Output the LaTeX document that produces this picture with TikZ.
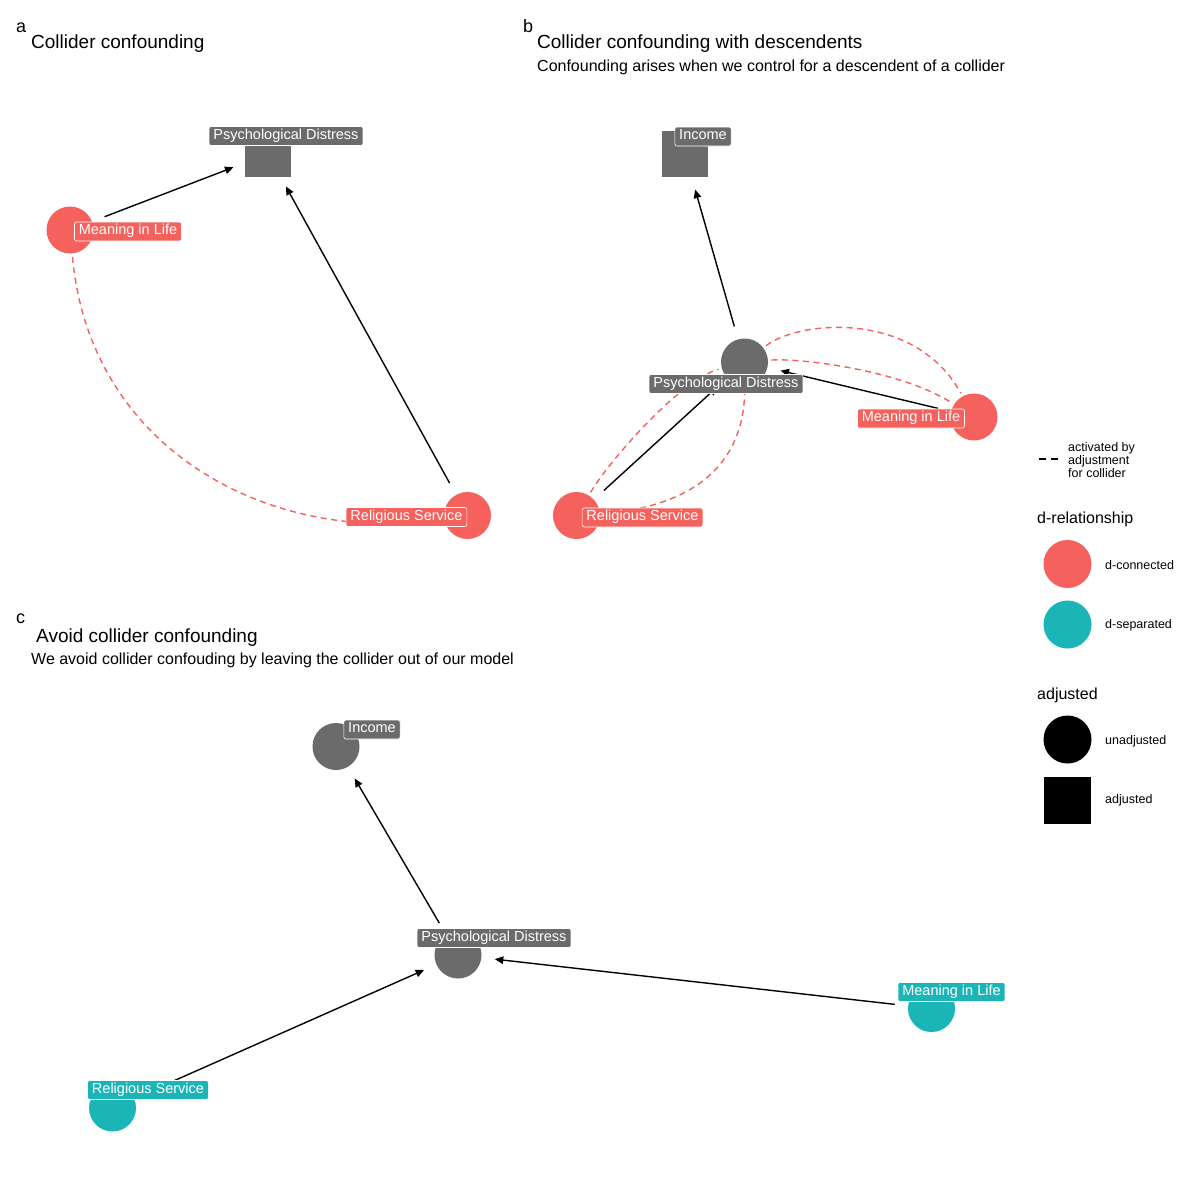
\documentclass[tikz,border=0pt]{standalone}
\usepackage{fontspec}
\setmainfont{Liberation Sans}
\usetikzlibrary{arrows.meta}
\definecolor{dcon}{HTML}{F5615C}
\definecolor{dsep}{HTML}{1BB5B8}
\definecolor{nodegrey}{HTML}{6B6B6B}

\tikzset{
  dagnode/.style={circle, minimum size=47pt, inner sep=0pt, fill=#1},
  adjnode/.style={rectangle, minimum size=46pt, inner sep=0pt, fill=#1},
  daglabel/.style={fill=#1, text=white, draw=white, line width=0.6pt,
    rounded corners=2pt, font=\fontsize{14.5}{16}\selectfont,
    inner xsep=4.3pt, inner ysep=2.8pt, text height=10pt, text depth=3.4pt},
  causal/.style={line width=1.4pt, -{Triangle[length=8.5pt,width=7.5pt]},
    shorten >=37pt, shorten <=37pt},
  collpath/.style={draw=dcon, line width=1.4pt, dash pattern=on 6pt off 4.5pt,
    shorten >=27pt, shorten <=27pt},
  tagtext/.style={anchor=base west, inner sep=0pt, font=\fontsize{18}{20}\selectfont},
  titletext/.style={anchor=base west, inner sep=0pt, font=\fontsize{19}{22}\selectfont},
  subtext/.style={anchor=base west, inner sep=0pt, font=\fontsize{16}{18}\selectfont},
  legtitle/.style={anchor=west, inner sep=0pt, font=\fontsize{16}{18}\selectfont},
  legtext/.style={anchor=west, inner sep=0pt, font=\fontsize{12.5}{13}\selectfont},
}

\begin{document}
\begin{tikzpicture}[x=1pt, y=-1pt]
\useasboundingbox[fill=white] (0,0) rectangle (1200,1200);

% ---------------- panel a ----------------
\node[tagtext] (taga) at (16,32) {a};
\node[titletext] (titlea) at (31,48) {Collider confounding};

\node[adjnode=nodegrey] (pda) at (268,154) {};
\node[dagnode=dcon] (mila) at (70,230) {};
\node[dagnode=dcon] (rsa) at (467.5,515.5) {};

\draw[collpath] (mila.center) .. controls (90,450) and (270,545) .. (rsa.center);
\draw[causal] (mila.center) -- (pda.center);
\draw[causal] (rsa.center) -- (pda.center);

\node[daglabel=nodegrey] (pdalab) at (286,136) {Psychological Distress};
\node[daglabel=dcon] (milalab) at (128,231.5) {Meaning in Life};
\node[daglabel=dcon] (rsalab) at (406.5,517) {Religious Service};

% ---------------- panel b ----------------
\node[tagtext] (tagb) at (523,32) {b};
\node[titletext] (titleb) at (537,48) {Collider confounding with descendents};
\node[subtext] (subb) at (537,71) {Confounding arises when we control for a descendent of a collider};

\node[adjnode=nodegrey] (incb) at (685,154) {};
\node[dagnode=nodegrey] (pdb) at (744.5,362) {};
\node[dagnode=dcon] (milb) at (974,417) {};
\node[dagnode=dcon] (rsb) at (576.5,515.5) {};

\draw[collpath] (pdb.center) .. controls (800,320) and (915,310) .. (milb.center);
\draw[collpath] (pdb.center) .. controls (800,358) and (900,370) .. (milb.center);
\draw[collpath] (rsb.center) .. controls (610,460) and (680,380) .. (pdb.center);
\draw[collpath] (pdb.center) .. controls (745,450) and (710,505) .. (rsb.center);
\draw[causal] (pdb.center) -- (incb.center);
\draw[causal] (rsb.center) -- (pdb.center);
\draw[causal] (milb.center) -- (pdb.center);

\node[daglabel=nodegrey] (incblab) at (703,136.5) {Income};
\node[daglabel=nodegrey] (pdblab) at (726,384) {Psychological Distress};
\node[daglabel=dcon] (milblab) at (911,418.5) {Meaning in Life};
\node[daglabel=dcon] (rsblab) at (642.5,517.5) {Religious Service};

% ---------------- panel c ----------------
\node[tagtext] (tagc) at (16,623) {c};
\node[titletext] (titlec) at (36,642) {Avoid collider confounding};
\node[subtext] (subc) at (31,664) {We avoid collider confouding by leaving the collider out of our model};

\node[dagnode=nodegrey] (incc) at (336,746.5) {};
\node[dagnode=nodegrey] (pdc) at (458,955) {};
\node[dagnode=dsep] (milc) at (931.5,1008.5) {};
\node[dagnode=dsep] (rsc) at (112.5,1108) {};

\draw[causal] (pdc.center) -- (incc.center);
\draw[causal] (milc.center) -- (pdc.center);
\draw[causal] (rsc.center) -- (pdc.center);

\node[daglabel=nodegrey] (incclab) at (372,729.5) {Income};
\node[daglabel=nodegrey] (pdclab) at (494,938) {Psychological Distress};
\node[daglabel=dsep] (milclab) at (951.5,992) {Meaning in Life};
\node[daglabel=dsep] (rsclab) at (148,1090) {Religious Service};

% ---------------- legend ----------------
\coordinate (dashL) at (1039,459);
\coordinate (dashR) at (1058,459);
\draw[line width=1.3pt, dash pattern=on 7pt off 5pt] (dashL) -- (dashR);
\node[legtext, align=left] (actlab) at (1068,460)
  {activated by\\adjustment\\for collider};

\node[legtitle] (legd) at (1037,519) {d-relationship};
\node[dagnode=dcon, minimum size=48pt] (legcon) at (1067.5,564) {};
\node[legtext] (legcontxt) at (1105,565) {d-connected};
\node[dagnode=dsep, minimum size=48pt] (legsep) at (1067.5,624.5) {};
\node[legtext] (legseptxt) at (1105,625) {d-separated};

\node[legtitle] (legadj) at (1037,695) {adjusted};
\node[dagnode=black, minimum size=48pt] (legun) at (1067.5,739.5) {};
\node[legtext] (leguntxt) at (1105,741) {unadjusted};
\node[adjnode=black, minimum size=47pt] (legsq) at (1067.5,800) {};
\node[legtext] (legsqtxt) at (1105,800) {adjusted};
\end{tikzpicture}
\end{document}
